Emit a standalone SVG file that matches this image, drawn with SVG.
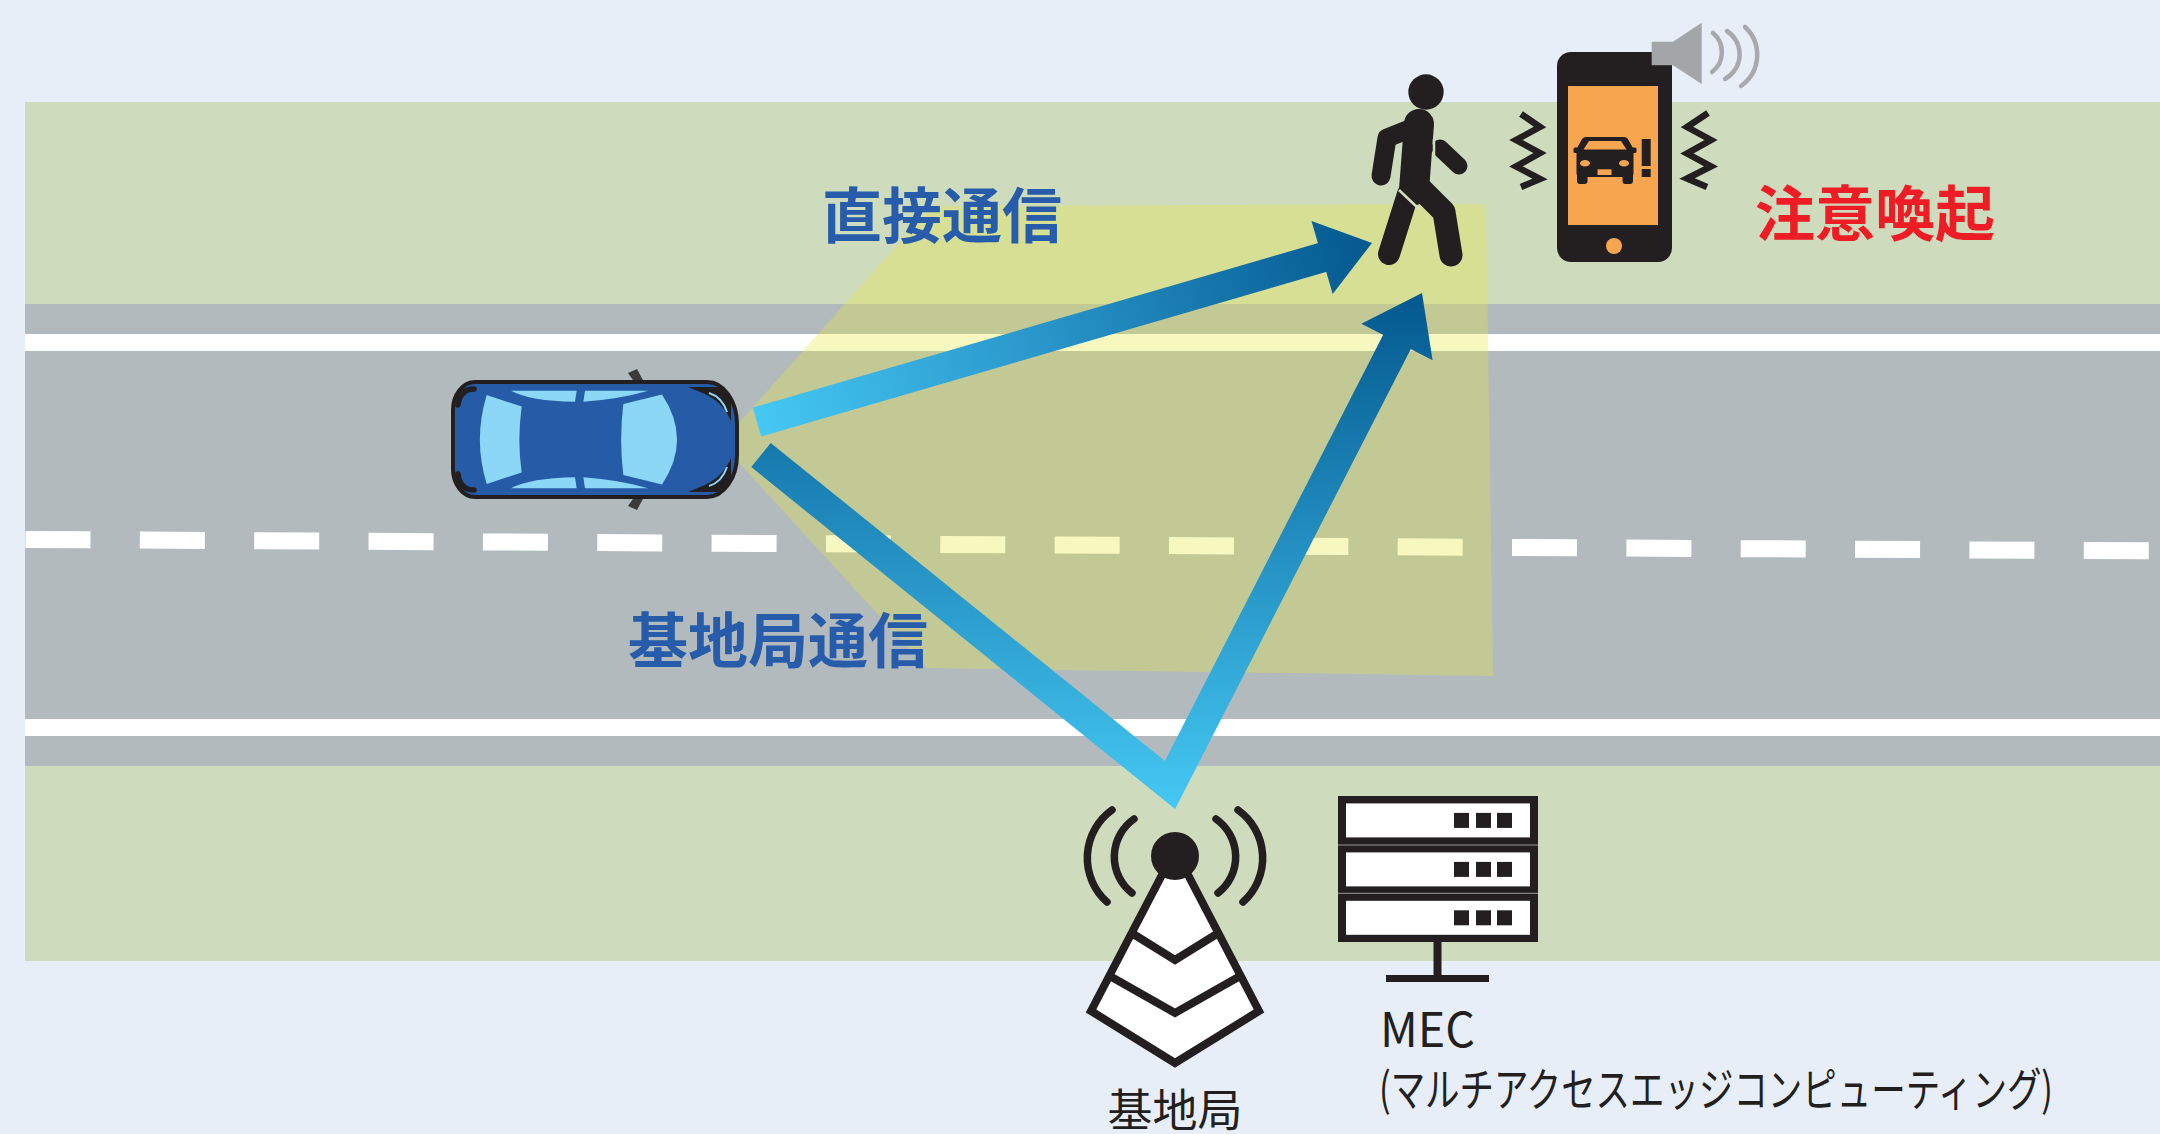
<svg xmlns="http://www.w3.org/2000/svg" width="2160" height="1134" viewBox="0 0 2160 1134">
  <style>
    .ink { fill: #231F20; }
    .inkS { fill: none; stroke: #231F20; }
    .win { fill: #8CD6F6; }
    .lblB { font-family: "Noto Sans CJK JP", "Noto Sans", sans-serif; font-weight: 700; font-size: 60px; fill: #265CA9; }
    .lblR { font-family: "Noto Sans CJK JP", "Noto Sans", sans-serif; font-weight: 700; font-size: 60px; fill: #EE1D25; }
    .cap { font-family: "Noto Sans CJK JP", "Noto Sans", sans-serif; font-weight: 400; fill: #231F20; }
    .snd { fill: none; stroke: #A7A9AC; stroke-width: 4.5; stroke-linecap: round; }
    .zig { fill: none; stroke: #231F20; stroke-width: 6.5; stroke-linejoin: miter; }
    .wave { fill: none; stroke: #231F20; stroke-width: 7.5; stroke-linecap: round; }
    .orange { fill: #F7A54F; }
  </style>
  <defs>
    <linearGradient id="gDirect" gradientUnits="userSpaceOnUse" x1="757" y1="422" x2="1372" y2="243">
      <stop offset="0" stop-color="#45C8F3"/>
      <stop offset="0.45" stop-color="#2A97CB"/>
      <stop offset="1" stop-color="#03588F"/>
    </linearGradient>
    <linearGradient id="gBase" gradientUnits="userSpaceOnUse" x1="0" y1="293" x2="0" y2="808">
      <stop offset="0" stop-color="#03588F"/>
      <stop offset="1" stop-color="#45C8F3"/>
    </linearGradient>
  </defs>

  <!-- backdrop, verges and road -->
  <rect width="2160" height="1134" fill="#E7EEF7"/>
  <rect x="25" y="102" width="2135" height="202" fill="#CEDBBD"/>
  <rect x="25" y="304" width="2135" height="462" fill="#B3BABE"/>
  <rect x="25" y="766" width="2135" height="195" fill="#CEDBBD"/>
  <rect x="25" y="334" width="2135" height="17" fill="#FFFFFF"/>
  <rect x="25" y="719" width="2135" height="17" fill="#FFFFFF"/>
  <line x1="25.5" y1="539.5" x2="2160" y2="550.9" stroke="#FFFFFF" stroke-width="17" stroke-dasharray="65 49.35"/>

  <!-- sensing area in front of the car -->
  <polygon points="721,443 932,206 1486,204 1493,676 927,668" fill="#E6E83C" fill-opacity="0.32"/>

  <!-- connectors -->
  <g id="connectors">
    <g id="direct-link">
      <path d="M757,422 L1326,256.4" stroke="url(#gDirect)" stroke-width="30" fill="none"/>
      <polygon points="1311.5,221 1372,243 1332.7,294" fill="url(#gDirect)"/>
    </g>
    <g id="base-link">
      <path d="M761,455 L1170,785 L1398.8,338.4" stroke="url(#gBase)" stroke-width="31" fill="none" stroke-linejoin="miter"/>
      <polygon points="1361.4,323.8 1422,293 1432.6,360.2" fill="url(#gBase)"/>
    </g>
  </g>

  <!-- vehicle seen from above -->
  <g id="car">
    <polygon points="628,373 637,369 644,382 635,383" fill="#3B3B3B"/>
    <polygon points="628,506 637,510 644,497 635,496" fill="#3B3B3B"/>
    <path d="M475,382 H707 A30 42 0 0 1 737,424 V455 A30 42 0 0 1 707,497 H475 A22 28 0 0 1 453,469 V410 A22 28 0 0 1 475,382 Z" fill="#265BA8" stroke="#231F20" stroke-width="4"/>
    <path d="M486.7,395 L521.7,406.5 Q517,440 521.7,472.5 L486.7,484 Q473,439.5 486.7,395 Z" class="win"/>
    <path d="M623.3,404 L662,394.5 Q692,439.5 662,484.5 L623.3,475 Q619,439.5 623.3,404 Z" class="win"/>
    <g id="car-upper">
      <path d="M511,390.7 H576.7 L575,401.7 Q530,401 511,390.7 Z" class="win"/>
      <path d="M585,390.7 H648.3 Q620,399 583.3,401.7 Z" class="win"/>
      <path d="M688,387 L718,387 Q728,391 731,402 L731,421 Q722,400 700,392 Z" class="ink"/>
      <path d="M709,393 Q722,397 727,412" fill="none" stroke="#8CD6F6" stroke-width="2"/>
      <path d="M474,389 Q460,389 458,405" fill="none" stroke="#231F20" stroke-width="5.5" stroke-linecap="round"/>
    </g>
    <use href="#car-upper" transform="matrix(1 0 0 -1 0 879)"/>
  </g>

  <!-- pedestrian -->
  <g id="pedestrian" stroke="#231F20" stroke-linecap="round" stroke-linejoin="round" fill="none">
    <circle cx="1426" cy="92" r="17.7" fill="#231F20" stroke="none"/>
    <path d="M1412,128 L1387,138 L1381,176" stroke-width="19"/>
    <path d="M1419,124 L1414,190" stroke-width="30"/>
    <path d="M1408,194 L1389,254" stroke-width="22"/>
    <path d="M1420,188 L1444,212 L1451,255" stroke-width="23"/>
    <path d="M1440,148 L1459,166" stroke-width="17"/>
    <path d="M1434,139 L1434,160" stroke="#CEDBBD" stroke-width="2.5" stroke-linecap="butt"/>
    <path d="M1399,190 L1419,209" stroke="#D3DEBF" stroke-width="2.5" stroke-linecap="butt"/>
  </g>

  <!-- smartphone with alert -->
  <g id="phone">
    <path d="M1521,114 L1540,127 L1516,140 L1540,153 L1516,166.5 L1540,179 L1521,187" class="zig"/>
    <path d="M1708,113 L1687,127 L1711,140 L1687,153.5 L1711,166.5 L1687,178.5 L1707,187" class="zig"/>
    <rect x="1557" y="52" width="115" height="210" rx="14" class="ink"/>
    <rect x="1568" y="86" width="90" height="139" class="orange"/>
    <circle cx="1614" cy="246" r="8" class="orange"/>
    <g id="alert-icon" class="ink">
      <path d="M1586,137 L1624,137 Q1627,137 1628.5,140 L1634,150 L1576,150 L1581.5,140 Q1583,137 1586,137 Z"/>
      <rect x="1576.5" y="149" width="57" height="28" rx="4"/>
      <rect x="1577" y="170" width="10.5" height="14" rx="3"/>
      <rect x="1622.5" y="170" width="10.5" height="14" rx="3"/>
      <rect x="1573.5" y="147.5" width="8" height="5.5" rx="1.5"/>
      <rect x="1628.5" y="147.5" width="8" height="5.5" rx="1.5"/>
      <rect x="1641.7" y="139" width="9" height="27" />
      <rect x="1641.7" y="169" width="9" height="8" />
    </g>
    <polygon points="1589,141 1621,141 1626.5,149.5 1583.5,149.5" class="orange"/>
    <ellipse cx="1585" cy="163.3" rx="5" ry="3.2" class="orange"/>
    <ellipse cx="1624" cy="163.3" rx="5" ry="3.2" class="orange"/>
    <rect x="1597.5" y="169.3" width="14" height="5.7" class="orange"/>
    <!-- loudspeaker -->
    <rect x="1651.7" y="41.7" width="22" height="23.5" fill="#A3A6A9"/>
    <polygon points="1673,41.7 1701.7,22.7 1701.7,84 1673,65.2" fill="#A3A6A9"/>
    <path d="M1713,33 A25 25 0 0 1 1712,72" class="snd"/>
    <path d="M1727,31 A28 28 0 0 1 1725,79" class="snd"/>
    <path d="M1745,27 A38 38 0 0 1 1741,86" class="snd"/>
  </g>

  <!-- base station -->
  <g id="base-station">
    <path d="M1134,819 A46 46 0 0 0 1132,893" class="wave"/>
    <path d="M1112,810 A59 59 0 0 0 1107,902" class="wave"/>
    <path d="M1216,819 A46 46 0 0 1 1218,893" class="wave"/>
    <path d="M1238,810 A59 59 0 0 1 1243,902" class="wave"/>
    <polygon points="1175,850 1091,1011 1175,1063 1259,1011" fill="#FFFFFF"/>
    <path d="M1130,932 L1175,960 L1220,932" class="inkS" stroke-width="8"/>
    <path d="M1108,975 L1175,1013 L1242,975" class="inkS" stroke-width="8"/>
    <polygon points="1175,850 1091,1011 1175,1063 1259,1011" class="inkS" stroke-width="8" stroke-linejoin="miter"/>
    <circle cx="1175" cy="856" r="24" class="ink"/>
  </g>

  <!-- MEC server -->
  <g id="mec-server">
    <rect x="1338" y="796" width="200" height="146" class="ink"/>
    <line x1="1338" y1="845" x2="1538" y2="845" stroke="#9A9A9A" stroke-width="1"/>
    <line x1="1338" y1="893.3" x2="1538" y2="893.3" stroke="#9A9A9A" stroke-width="1"/>
    <rect x="1346" y="803.4" width="184" height="34" fill="#FFFFFF"/>
    <rect x="1346" y="852.4" width="184" height="34" fill="#FFFFFF"/>
    <rect x="1346" y="900.8" width="184" height="34" fill="#FFFFFF"/>
    <g class="ink">
      <rect x="1454" y="812.9" width="15" height="15"/>
      <rect x="1476" y="812.9" width="15" height="15"/>
      <rect x="1497" y="812.9" width="15" height="15"/>
      <rect x="1454" y="861.9" width="15" height="15"/>
      <rect x="1476" y="861.9" width="15" height="15"/>
      <rect x="1497" y="861.9" width="15" height="15"/>
      <rect x="1454" y="910.3" width="15" height="15"/>
      <rect x="1476" y="910.3" width="15" height="15"/>
      <rect x="1497" y="910.3" width="15" height="15"/>
      <rect x="1433.5" y="941" width="8" height="35"/>
      <rect x="1386" y="975" width="103" height="7"/>
    </g>
  </g>

  <!-- labels -->
  <g id="labels">
    <text class="lblB" x="822" y="238">直接通信</text>
    <text class="lblB" x="628" y="663">基地局通信</text>
    <text class="lblR" x="1755" y="236">注意喚起</text>
    <text class="cap" x="1175" y="1127" font-size="45" text-anchor="middle">基地局</text>
    <text class="cap" transform="translate(1380,1047) scale(0.95,1)" x="0" y="0" font-size="48" textLength="100" lengthAdjust="spacingAndGlyphs">MEC</text>
    <text class="cap" transform="translate(1379,1106) scale(0.7456,1)" x="0" y="0" font-size="46" textLength="904" lengthAdjust="spacingAndGlyphs">(マルチアクセスエッジコンピューティング)</text>
  </g>
</svg>
